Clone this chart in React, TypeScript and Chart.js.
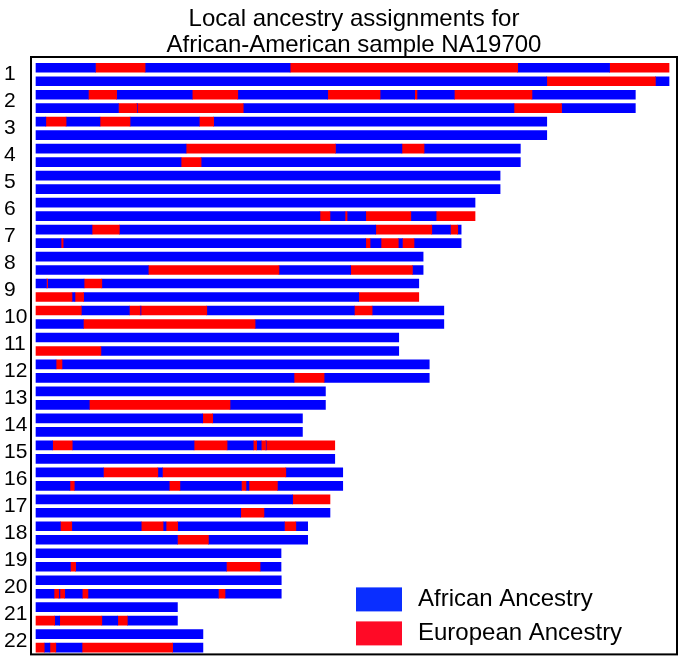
import React, { useEffect, useRef } from "react";
import { Chart, registerables } from "chart.js";

Chart.register(...registerables);

// ---------------- data ----------------
const titleLines = ["Local ancestry assignments for", "African-American sample NA19700"];
const chromosomes = ["1", "2", "3", "4", "5", "6", "7", "8", "9", "10", "11", "12", "13", "14", "15", "16", "17", "18", "19", "20", "21", "22"];
const ancestryNames = ["African Ancestry", "European Ancestry"];
const barColors = ["#0000ff", "#ff0000"];
const legendColors = ["#0a2eff", "#ff0a26"];

const AFR = 0;
const EUR = 1;

// Each haplotype: ancestry of first segment, then segment end positions (cM); ancestry alternates.
const chr1a = { first: AFR, ends: [26.1, 47.9, 111.6, 211.5, 251.9, 278.0] };
const chr1b = { first: AFR, ends: [224.3, 272.0, 278.0] };
const chr2a = { first: AFR, ends: [23.0, 35.4, 68.6, 88.6, 128.1, 151.1, 166.3, 167.3, 183.7, 217.8, 263.2] };
const chr2b = { first: AFR, ends: [36.2, 44.2, 44.5, 91.0, 209.9, 230.8, 263.2] };
const chr3a = { first: AFR, ends: [4.3, 13.2, 28.1, 41.3, 71.7, 78.0, 224.3] };
const chr3b = { first: AFR, ends: [224.3] };
const chr4a = { first: AFR, ends: [65.9, 131.5, 160.7, 170.4, 212.7] };
const chr4b = { first: AFR, ends: [63.7, 72.5, 212.7] };
const chr5a = { first: AFR, ends: [203.8] };
const chr5b = { first: AFR, ends: [203.8] };
const chr6a = { first: AFR, ends: [192.8] };
const chr6b = { first: AFR, ends: [124.7, 129.1, 135.7, 136.6, 144.8, 164.6, 175.7, 192.8] };
const chr7a = { first: AFR, ends: [24.6, 36.6, 149.2, 173.8, 182.0, 185.2, 186.7] };
const chr7b = { first: AFR, ends: [11.0, 11.9, 144.8, 146.7, 151.5, 159.1, 160.9, 166.0, 186.7] };
const chr8a = { first: AFR, ends: [170.0] };
const chr8b = { first: AFR, ends: [49.3, 106.7, 138.2, 165.3, 170.0] };
const chr9a = { first: AFR, ends: [4.6, 5.1, 21.1, 28.9, 168.1] };
const chr9b = { first: EUR, ends: [15.8, 17.1, 20.9, 141.7, 168.1] };
const chr10a = { first: EUR, ends: [19.9, 41.0, 45.7, 46.1, 75.0, 139.8, 147.6, 179.1] };
const chr10b = { first: AFR, ends: [20.8, 96.2, 179.1] };
const chr11a = { first: AFR, ends: [159.3] };
const chr11b = { first: EUR, ends: [28.5, 159.3] };
const chr12a = { first: AFR, ends: [8.8, 11.4, 172.7] };
const chr12b = { first: AFR, ends: [113.3, 126.5, 172.7] };
const chr13a = { first: AFR, ends: [127.1] };
const chr13b = { first: AFR, ends: [23.4, 85.2, 127.1] };
const chr14a = { first: AFR, ends: [73.2, 77.6, 117.0] };
const chr14b = { first: AFR, ends: [117.0] };
const chr15a = { first: AFR, ends: [7.3, 15.9, 69.4, 83.9, 95.4, 96.9, 98.9, 100.8, 101.1, 131.2] };
const chr15b = { first: AFR, ends: [131.2] };
const chr16a = { first: AFR, ends: [29.6, 53.5, 55.5, 109.7, 134.7] };
const chr16b = { first: AFR, ends: [14.9, 16.8, 58.5, 63.2, 90.2, 92.2, 93.5, 106.0, 134.7] };
const chr17a = { first: AFR, ends: [112.7, 129.1] };
const chr17b = { first: AFR, ends: [89.9, 100.1, 129.1] };
const chr18a = { first: AFR, ends: [10.7, 15.7, 46.2, 55.8, 57.1, 62.2, 109.1, 114.1, 119.3] };
const chr18b = { first: AFR, ends: [62.1, 75.7, 119.3] };
const chr19a = { first: AFR, ends: [107.6] };
const chr19b = { first: AFR, ends: [15.1, 17.4, 83.6, 98.4, 107.6] };
const chr20a = { first: AFR, ends: [107.7] };
const chr20b = { first: AFR, ends: [7.9, 10.0, 10.5, 12.6, 20.3, 22.8, 80.1, 83.0, 107.7] };
const chr21a = { first: AFR, ends: [62.1] };
const chr21b = { first: EUR, ends: [8.2, 10.4, 28.9, 35.9, 40.1, 62.1] };
const chr22a = { first: AFR, ends: [73.3] };
const chr22b = { first: EUR, ends: [3.6, 6.1, 8.7, 20.2, 60.0, 73.3] };

const haplotypes = [
  chr1a, chr1b, chr2a, chr2b, chr3a, chr3b, chr4a, chr4b, chr5a, chr5b, chr6a, chr6b,
  chr7a, chr7b, chr8a, chr8b, chr9a, chr9b, chr10a, chr10b, chr11a, chr11b, chr12a, chr12b,
  chr13a, chr13b, chr14a, chr14b, chr15a, chr15b, chr16a, chr16b, chr17a, chr17b, chr18a, chr18b,
  chr19a, chr19b, chr20a, chr20b, chr21a, chr21b, chr22a, chr22b,
];
const haplotypeLabels = chromosomes.flatMap((c) => [c + "a", c + "b"]);

const FONT = "'Liberation Sans', Arial, sans-serif";

// ---------------- helpers ----------------
function buildDatasets() {
  const segs = haplotypes.map((h) => {
    let start = 0;
    return h.ends.map((end, i) => {
      const s = { range: [start, end] as [number, number], anc: (h.first + i) % 2 };
      start = end;
      return s;
    });
  });
  const maxSegs = Math.max(...segs.map((s) => s.length));
  const datasets = [];
  for (let k = 0; k < maxSegs; k++) {
    datasets.push({
      label: "segment " + (k + 1),
      data: segs.map((s) => (s[k] ? s[k].range : null)),
      backgroundColor: segs.map((s) => (s[k] ? barColors[s[k].anc] : "transparent")),
      borderWidth: 0,
      borderSkipped: false,
      barThickness: 9,
      grouped: false,
    });
  }
  return datasets;
}

const decorPlugin = {
  id: "decor",
  afterDraw(chart: any) {
    const { ctx, chartArea: a } = chart;
    ctx.save();
    ctx.strokeStyle = "#000";
    ctx.lineWidth = 2;
    ctx.strokeRect(a.left, a.top - 4, a.right - a.left, a.bottom - a.top + 4);
    // legend
    ctx.font = "24px " + FONT;
    ctx.textBaseline = "middle";
    ctx.textAlign = "left";
    ancestryNames.forEach((name, i) => {
      const y = a.bottom - 67 + i * 34;
      ctx.fillStyle = legendColors[i];
      ctx.fillRect(a.left + 325, y, 46, 24);
      ctx.fillStyle = "#000";
      ctx.fillText(name, a.left + 387, y + 12);
    });
    ctx.restore();
  },
};

export default function App() {
  const canvasRef = useRef<HTMLCanvasElement | null>(null);

  useEffect(() => {
    if (!canvasRef.current) return;
    const chart = new Chart(canvasRef.current, {
      type: "bar",
      data: { labels: haplotypeLabels, datasets: buildDatasets() as any },
      options: {
        indexAxis: "y",
        animation: false,
        responsive: false,
        events: [],
        layout: { padding: { left: 4, right: 3, top: 0, bottom: 5 }, autoPadding: false } as any,
        plugins: {
          legend: { display: false },
          tooltip: { enabled: false },
          title: {
            display: true,
            fullSize: false,
            text: titleLines,
            color: "#000",
            font: { family: FONT, size: 24, weight: "normal", lineHeight: 1.1 },
            padding: { top: 6, bottom: 2.2 },
          } as any,
        },
        scales: {
          x: { type: "linear", display: false, min: -2.2, max: 281.5 },
          y: { type: "category", display: false, offset: true },
          yc: {
            type: "category",
            position: "left",
            labels: chromosomes,
            offset: true,
            grid: { display: false },
            border: { display: false },
            ticks: {
              color: "#000",
              crossAlign: "far",
              padding: 0,
              autoSkip: false,
              font: { family: FONT, size: 21 },
            },
            afterFit: (axis: any) => {
              axis.width = 27;
            },
          } as any,
        },
      },
      plugins: [decorPlugin],
    });
    return () => chart.destroy();
  }, []);

  return (
    <div style={{ position: "absolute", left: 0, top: 0, width: 680, height: 667, background: "#fff" }}>
      <canvas ref={canvasRef} width={680} height={667} />
    </div>
  );
}
